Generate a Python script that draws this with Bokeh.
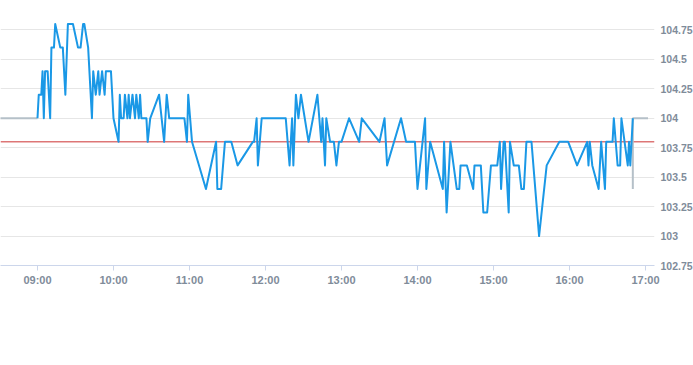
import pandas as pd
from bokeh.plotting import figure
from bokeh.models import (FixedTicker, NumeralTickFormatter, Span, Range1d,
                          DatetimeTickFormatter)
from bokeh.embed import file_html
from bokeh.resources import INLINE

day = "2024-01-02 "

pre_times = ["08:30", "09:00"]
pre_prices = [104.0, 104.0]

times = [
    "09:00", "09:01", "09:03", "09:04", "09:05", "09:06", "09:08", "09:10", "09:11", "09:13",
    "09:14", "09:18", "09:20", "09:22", "09:24", "09:28", "09:32", "09:34", "09:36", "09:37",
    "09:40", "09:43", "09:44", "09:46", "09:48", "09:49", "09:51", "09:53", "09:54", "09:58",
    "10:00", "10:04", "10:05", "10:06", "10:08", "10:09", "10:11", "10:12", "10:13", "10:15",
    "10:17", "10:18", "10:20", "10:21", "10:22", "10:26", "10:27", "10:29", "10:36", "10:40",
    "10:42", "10:44", "10:56", "10:58", "10:59", "11:02", "11:13", "11:21", "11:22", "11:25",
    "11:28", "11:33", "11:38", "11:50", "11:51", "11:53", "11:54", "11:57", "12:16", "12:19",
    "12:21", "12:22", "12:24", "12:26", "12:28", "12:34", "12:41", "12:44", "12:45", "12:47",
    "12:48", "12:51", "12:54", "12:56", "12:58", "13:00", "13:06", "13:14", "13:16", "13:30",
    "13:34", "13:36", "13:47", "13:51", "13:58", "14:00", "14:04", "14:06", "14:07", "14:10",
    "14:20", "14:21", "14:23", "14:26", "14:31", "14:33", "14:34", "14:39", "14:44", "14:45",
    "14:50", "14:52", "14:55", "14:58", "15:03", "15:05", "15:06", "15:08", "15:09", "15:12",
    "15:13", "15:16", "15:20", "15:22", "15:24", "15:26", "15:30", "15:36", "15:42", "15:52",
    "15:59", "16:06", "16:14", "16:15", "16:16", "16:18", "16:23", "16:25", "16:28", "16:29",
    "16:34", "16:35", "16:38", "16:40", "16:41", "16:46", "16:47", "16:48", "16:50",
]
prices = [
    104.0, 104.2, 104.2, 104.4, 104.0, 104.4, 104.4, 104.0, 104.6, 104.6,
    104.8, 104.6, 104.6, 104.2, 104.8, 104.8, 104.6, 104.6, 104.8, 104.8,
    104.6, 104.0, 104.4, 104.2, 104.4, 104.2, 104.4, 104.2, 104.4, 104.4,
    104.0, 103.8, 104.2, 104.0, 104.0, 104.2, 104.0, 104.2, 104.0, 104.2,
    104.0, 104.2, 104.0, 104.2, 104.0, 104.0, 103.8, 104.0, 104.2, 103.8,
    104.2, 104.0, 104.0, 103.8, 104.2, 103.8, 103.4, 103.8, 103.4, 103.4,
    103.8, 103.8, 103.6, 103.8, 103.8, 104.0, 103.6, 104.0, 104.0, 103.6,
    104.0, 103.6, 104.2, 104.0, 104.2, 103.8, 104.2, 103.8, 104.0, 103.6,
    104.0, 103.8, 103.8, 103.6, 103.8, 103.8, 104.0, 103.8, 104.0, 103.8,
    104.0, 103.6, 104.0, 103.8, 103.8, 103.4, 103.8, 104.0, 103.4, 103.8,
    103.4, 103.8, 103.2, 103.8, 103.4, 103.4, 103.6, 103.6, 103.4, 103.6,
    103.6, 103.2, 103.2, 103.6, 103.6, 103.8, 103.4, 103.8, 103.8, 103.2,
    103.8, 103.6, 103.6, 103.4, 103.4, 103.8, 103.8, 103.0, 103.6, 103.8,
    103.8, 103.6, 103.8, 103.6, 103.8, 103.6, 103.4, 103.8, 103.4, 103.8,
    103.8, 104.0, 103.6, 103.6, 104.0, 103.6, 103.8, 103.6, 104.0,
]

post_times = ["16:50", "16:50", "17:02"]
post_prices = [103.4, 104.0, 104.0]

prev_close = 103.8
y_ticks = [102.75, 103.0, 103.25, 103.5, 103.75, 104.0, 104.25, 104.5, 104.75]
x_tick_labels = ["09:00", "10:00", "11:00", "12:00", "13:00", "14:00", "15:00", "16:00", "17:00"]
x_start, x_end = "08:30:48", "17:07:07"
y_start, y_end = 102.75, 105.0


def ms(t):
    return pd.Timestamp(day + t).value / 1e6


def to_dt(ts):
    return pd.to_datetime([day + t for t in ts])


p = figure(frame_width=654, frame_height=265, x_axis_type="datetime",
           x_range=Range1d(ms(x_start), ms(x_end)),
           y_range=Range1d(y_start, y_end),
           y_axis_location="right",
           output_backend="svg", toolbar_location=None,
           min_border_left=0, min_border_top=0, min_border_right=0, min_border_bottom=0)
p.outline_line_color = None
p.background_fill_color = "white"
p.border_fill_color = "white"

p.xgrid.visible = False
p.ygrid.ticker = FixedTicker(ticks=y_ticks)
p.ygrid.grid_line_color = "#e6e6e6"

xa = p.xaxis[0]
xa.ticker = FixedTicker(ticks=[ms(t) for t in x_tick_labels])
xa.formatter = DatetimeTickFormatter(hours="%H:%M", hourmin="%H:%M", minutes="%H:%M",
                                     days="%H:%M", minsec="%H:%M")
xa.axis_line_color = "#ccd6eb"
xa.major_tick_line_color = "#ccd6eb"
xa.major_tick_out = 5
xa.major_tick_in = 0
xa.minor_tick_line_color = None
xa.major_label_text_font = "Liberation Sans"
xa.major_label_text_font_size = "11px"
xa.major_label_text_font_style = "bold"
xa.major_label_text_color = "#7f8c9a"
xa.major_label_standoff = 3

ya = p.yaxis[0]
ya.ticker = FixedTicker(ticks=y_ticks)
ya.formatter = NumeralTickFormatter(format="0.[00]")
ya.axis_line_color = None
ya.major_tick_line_color = None
ya.minor_tick_line_color = None
ya.major_label_text_font = "Liberation Sans"
ya.major_label_text_font_size = "10.5px"
ya.major_label_text_font_style = "bold"
ya.major_label_text_color = "#7f8c9a"
ya.major_label_standoff = 0

p.add_layout(Span(location=prev_close, dimension="width", line_color="#cc3333",
                  line_width=1, level="underlay"))

p.line(to_dt(pre_times), pre_prices, line_color="#b5c0c8", line_width=2)
p.line(to_dt(post_times), post_prices, line_color="#b5c0c8", line_width=2)
p.line(to_dt(times), prices, line_color="#1a98e6", line_width=2, line_join="round")

open("out.html", "w").write(file_html(p, INLINE))
